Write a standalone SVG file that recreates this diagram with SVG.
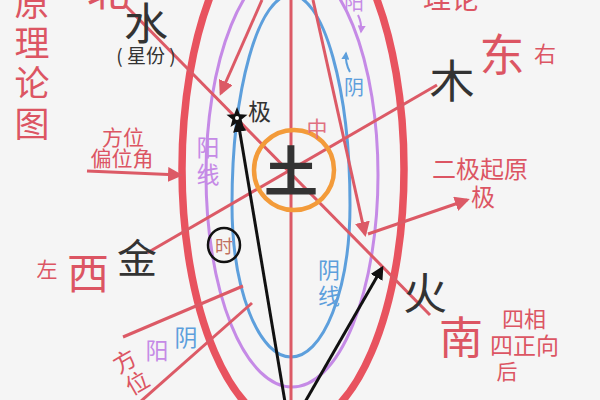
<svg xmlns="http://www.w3.org/2000/svg" width="600" height="400" viewBox="0 0 600 400">
<defs>
<style>
text{font-family:"Noto Sans CJK SC","Noto Sans",sans-serif;}
.r{fill:#dc5563;}
.k{fill:#333;}
.p{fill:#c58ae6;}
.b{fill:#5d9fdc;}
.ln{stroke:#dc5a66;stroke-width:3;fill:none;}
.bk{stroke:#111;stroke-width:3;fill:none;}
</style>
<marker id="ar" viewBox="0 0 10 10" refX="8" refY="5" markerWidth="5" markerHeight="5" orient="auto" markerUnits="strokeWidth"><path d="M0,0 L10,5 L0,10 z" fill="#dc5a66"/></marker>
<marker id="ak" viewBox="0 0 10 10" refX="8" refY="5" markerWidth="4.5" markerHeight="4.5" orient="auto" markerUnits="strokeWidth"><path d="M0,0 L10,5 L0,10 z" fill="#111"/></marker>
<marker id="ap" viewBox="0 0 10 10" refX="8" refY="5" markerWidth="4" markerHeight="4" orient="auto" markerUnits="strokeWidth"><path d="M0,0 L10,5 L0,10 z" fill="#c58ae6"/></marker>
<marker id="ab" viewBox="0 0 10 10" refX="8" refY="5" markerWidth="4" markerHeight="4" orient="auto" markerUnits="strokeWidth"><path d="M0,0 L10,5 L0,10 z" fill="#5d9fdc"/></marker>
</defs>
<rect width="600" height="400" fill="#f5f5f5"/>
<g id="rings">
<ellipse cx="293" cy="169" rx="111" ry="259" fill="none" stroke="#e8535f" stroke-width="7.5"/>
<ellipse cx="292" cy="175" rx="86" ry="212" fill="none" stroke="#c58ae6" stroke-width="3"/>
<path d="M232 205 A59 210 0 0 1 350 205 A59 152 0 0 1 232 205 Z" fill="none" stroke="#5d9fdc" stroke-width="3"/>
</g>
<g id="connectors">
<line class="ln" x1="291" y1="0" x2="291" y2="400"/>
<line class="ln" x1="125" y1="5" x2="430" y2="315"/>
<line class="ln" x1="147" y1="253" x2="437" y2="85"/>
<line class="ln" x1="313" y1="0" x2="365" y2="234" marker-end="url(#ar)"/>
<line class="ln" x1="368" y1="234" x2="467" y2="200" marker-end="url(#ar)"/>
<line class="ln" x1="262" y1="0" x2="221" y2="93" marker-end="url(#ar)"/>
<line class="ln" x1="87" y1="171" x2="180" y2="175" marker-end="url(#ar)"/>
<line class="ln" x1="123" y1="337" x2="243" y2="286"/>
<line class="ln" x1="140" y1="402" x2="252" y2="303"/>
<line class="bk" x1="285" y1="402" x2="238" y2="121" marker-end="url(#ak)"/>
<line class="bk" x1="305" y1="402" x2="382" y2="268" marker-end="url(#ak)"/>
<path d="M358 15 Q362 23 361 32" stroke="#c58ae6" stroke-width="2" fill="none" marker-end="url(#ap)"/>
<path d="M350 72 Q345 63 346 53" stroke="#5d9fdc" stroke-width="2" fill="none" marker-end="url(#ab)"/>
</g>
<g id="earth">
<circle cx="294" cy="170" r="40" fill="none" stroke="#f39b3a" stroke-width="4.5"/>
<text x="291" y="192" font-size="54" font-weight="bold" class="k" text-anchor="middle">土</text>
</g>
<g id="star">
<path d="M237 107 L239.8 114.2 L247.5 114.7 L241.6 119.5 L243.5 127 L237 122.8 L230.5 127 L232.4 119.5 L226.5 114.7 L234.2 114.2 Z" fill="#111"/>
<circle cx="237" cy="118" r="2" fill="#fff"/>
<text x="248" y="120" font-size="23" class="k">极</text>
</g>
<g id="time">
<ellipse cx="224" cy="245" rx="16" ry="17" fill="none" stroke="#111" stroke-width="2.5"/>
<text x="224" y="253" font-size="18" fill="#c07060" text-anchor="middle">时</text>
</g>
<g id="title">
<text x="32" y="16" font-size="35" class="r" text-anchor="middle">原</text>
<text x="32" y="56" font-size="35" class="r" text-anchor="middle">理</text>
<text x="32" y="96" font-size="35" class="r" text-anchor="middle">论</text>
<text x="32" y="137" font-size="35" class="r" text-anchor="middle">图</text>
<text x="108" y="6" font-size="42" class="r" text-anchor="middle">北</text>
<text x="423" y="9" font-size="28" class="r">理论</text>
</g>
<g id="water">
<text x="146" y="40" font-size="44" class="k" text-anchor="middle">水</text>
<text x="146" y="63" font-size="19" class="k" text-anchor="middle" xml:space="preserve">( 星份 )</text>
</g>
<g id="east">
<text x="502" y="72" font-size="45" class="r" text-anchor="middle">东</text>
<text x="545" y="62" font-size="22" class="r" text-anchor="middle">右</text>
<text x="452" y="98" font-size="45" class="k" text-anchor="middle">木</text>
</g>
<g id="twopoles">
<text x="432" y="178" font-size="24" class="r">二极起原</text>
<text x="483" y="206" font-size="24" class="r" text-anchor="middle">极</text>
</g>
<g id="angle">
<text x="123" y="145" font-size="21" class="r" text-anchor="middle">方位</text>
<text x="122" y="166" font-size="21" class="r" text-anchor="middle">偏位角</text>
</g>
<g id="middle">
<text x="317" y="136" font-size="21" fill="#e07080" text-anchor="middle">中</text>
</g>
<g id="yang-top">
<text x="354" y="10" font-size="20" class="p" text-anchor="middle">阳</text>
<text x="354" y="95" font-size="20" class="b" text-anchor="middle">阴</text>
</g>
<g id="yangline">
<text x="208" y="156" font-size="23" class="p" text-anchor="middle">阳</text>
<text x="208" y="183" font-size="23" class="p" text-anchor="middle">线</text>
</g>
<g id="yinline">
<text x="329" y="278" font-size="22" class="b" text-anchor="middle">阴</text>
<text x="329" y="304" font-size="22" class="b" text-anchor="middle">线</text>
</g>
<g id="west">
<text x="137" y="273" font-size="40" class="k" text-anchor="middle">金</text>
<text x="88" y="289" font-size="42" class="r" text-anchor="middle">西</text>
<text x="47" y="277" font-size="21" class="r" text-anchor="middle">左</text>
</g>
<g id="bottomleft">
<g transform="translate(131,372) rotate(-30)">
<text x="0" y="-4" font-size="23" class="r" text-anchor="middle">方</text>
<text x="0" y="21" font-size="23" class="r" text-anchor="middle">位</text>
</g>
<text x="157" y="359" font-size="23" class="p" text-anchor="middle">阳</text>
<text x="186" y="346" font-size="23" class="b" text-anchor="middle">阴</text>
</g>
<g id="south">
<text x="425" y="310" font-size="44" class="k" text-anchor="middle">火</text>
<text x="461" y="354" font-size="44" class="r" text-anchor="middle">南</text>
<text x="502" y="327" font-size="22" class="r">四相</text>
<text x="490" y="354" font-size="23" class="r">四正向</text>
<text x="507" y="379" font-size="21" class="r" text-anchor="middle">后</text>
</g>
</svg>
